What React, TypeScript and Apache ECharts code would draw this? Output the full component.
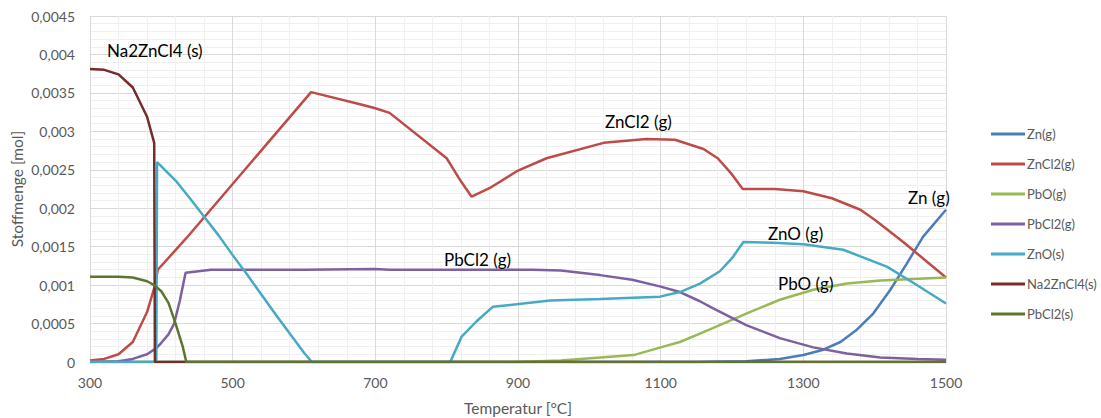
import React, { useEffect, useRef } from "react";
import * as echarts from "echarts";

const FONT = "Lato, 'Open Sans', sans-serif";

const seriesNames = ["Zn(g)", "ZnCl2(g)", "PbO(g)", "PbCl2(g)", "ZnO(s)", "Na2ZnCl4(s)", "PbCl2(s)"];
const seriesColors = ["#4A7EBB", "#BE4B48", "#98B954", "#7D60A0", "#46AAC5", "#772C2A", "#5E7530"];

const znGT = [300, 1150, 1220, 1267, 1300, 1328, 1352, 1375, 1398, 1422, 1445, 1468, 1500];
const znGV = [0, 0, 0.00001, 0.00004, 0.00009, 0.00016, 0.00026, 0.00042, 0.00063, 0.00094, 0.00128, 0.00163, 0.00198];

const znCl2GT = [300, 320, 340, 360, 380, 390, 395, 435, 610, 680, 700, 720, 800, 820, 835, 860, 900, 940, 1020, 1080, 1120, 1160, 1180, 1200, 1215, 1260, 1300, 1340, 1380, 1400, 1440, 1500];
const znCl2GV = [0.00002, 0.00004, 0.0001, 0.00026, 0.00065, 0.00096, 0.0012, 0.00161, 0.00351, 0.00335, 0.0033, 0.00324, 0.00265, 0.00235, 0.00215, 0.00226, 0.00249, 0.00265, 0.00285, 0.0029, 0.00289, 0.00277, 0.00265, 0.00244, 0.00225, 0.00225, 0.00222, 0.00213, 0.00198, 0.00185, 0.00156, 0.0011];

const pbOGT = [300, 900, 960, 1015, 1062, 1100, 1127, 1155, 1173, 1220, 1267, 1314, 1361, 1408, 1454, 1500];
const pbOGV = [0, 0, 0.00002, 0.00006, 0.00009, 0.00019, 0.00026, 0.00037, 0.00044, 0.00063, 0.00081, 0.00094, 0.00102, 0.00106, 0.00108, 0.0011];

const pbCl2GT = [300, 340, 360, 380, 393, 400, 410, 418, 426, 434, 470, 500, 600, 700, 720, 920, 960, 1015, 1060, 1100, 1127, 1155, 1173, 1220, 1267, 1314, 1361, 1408, 1460, 1500];
const pbCl2GV = [0, 0.00001, 0.00004, 0.0001, 0.00018, 0.00025, 0.00036, 0.0005, 0.0008, 0.00116, 0.0012, 0.0012, 0.0012, 0.00121, 0.0012, 0.0012, 0.00119, 0.00113, 0.00107, 0.00098, 0.00091, 0.00079, 0.0007, 0.00048, 0.00031, 0.00019, 0.00011, 0.00006, 0.00004, 0.00003];

const znOST = [300, 393, 394, 420, 440, 460, 480, 500, 520, 540, 560, 580, 600, 611, 805, 821, 842, 865, 898, 945, 1015, 1099, 1127, 1155, 1183, 1200, 1216, 1258, 1300, 1356, 1417, 1454, 1500];
const znOSV = [0, 0, 0.0026, 0.00236, 0.00213, 0.00189, 0.00165, 0.00139, 0.00114, 0.00088, 0.00062, 0.00037, 0.00012, 0, 0, 0.00033, 0.00053, 0.00072, 0.00075, 0.0008, 0.00082, 0.00085, 0.00091, 0.00102, 0.00118, 0.00135, 0.00156, 0.00155, 0.00153, 0.00146, 0.00124, 0.00103, 0.00076];

const na2ZnCl4T = [300, 320, 340, 360, 380, 390, 391, 1500];
const na2ZnCl4V = [0.00381, 0.0038, 0.00374, 0.00357, 0.00319, 0.00285, 0, 0];

const pbCl2ST = [300, 340, 360, 380, 390, 400, 410, 420, 430, 435, 1500];
const pbCl2SV = [0.00111, 0.00111, 0.0011, 0.00105, 0.001, 0.00092, 0.00077, 0.0005, 0.0002, 0, 0];

const temps = [znGT, znCl2GT, pbOGT, pbCl2GT, znOST, na2ZnCl4T, pbCl2ST];
const vals = [znGV, znCl2GV, pbOGV, pbCl2GV, znOSV, na2ZnCl4V, pbCl2SV];

const annotations = [
  { text: "Na2ZnCl4 (s)", x: 107, y: 50 },
  { text: "ZnCl2 (g)", x: 605, y: 121 },
  { text: "PbCl2 (g)", x: 444, y: 259 },
  { text: "ZnO (g)", x: 768, y: 233 },
  { text: "PbO (g)", x: 778, y: 283 },
  { text: "Zn (g)", x: 908, y: 197 },
];

const xTitle = "Temperatur [°C]";
const yTitle = "Stoffmenge [mol]";

export default function App() {
  const ref = useRef<HTMLDivElement>(null);
  useEffect(() => {
    const chart = echarts.init(ref.current!, null, { renderer: "svg" });
    const series = seriesNames.map((name, i) => ({
      name,
      type: "line",
      data: temps[i].map((t, j) => [t, vals[i][j]]),
      showSymbol: false,
      symbol: "none",
      lineStyle: { width: 2.5, color: seriesColors[i] },
      itemStyle: { color: seriesColors[i] },
      z: 2 + i,
    }));
    chart.setOption({
      animation: false,
      backgroundColor: "#ffffff",
      textStyle: { fontFamily: FONT },
      grid: { left: 90, right: 155, top: 16, bottom: 56, containLabel: false },
      xAxis: {
        type: "value",
        min: 300,
        max: 1500,
        interval: 200,
        axisLine: { show: true, lineStyle: { color: "#D9D9D9" } },
        axisTick: { show: false },
        axisLabel: { color: "#595959", fontSize: 14, fontFamily: FONT, margin: 13, formatter: (v: number) => String(v) },
        splitLine: { show: true, lineStyle: { color: "#D9D9D9", width: 1 } },
        minorTick: { show: false, splitNumber: 5 },
        minorSplitLine: { show: true, lineStyle: { color: "#F0F0F0", width: 1 } },
      },
      yAxis: {
        type: "value",
        min: 0,
        max: 0.0045,
        interval: 0.0005,
        axisLine: { show: true, lineStyle: { color: "#D9D9D9" } },
        axisTick: { show: false },
        axisLabel: {
          color: "#595959",
          fontSize: 14,
          fontFamily: FONT,
          margin: 15,
          formatter: (v: number) => (v === 0 ? "0" : String(parseFloat(v.toFixed(4))).replace(".", ",")),
        },
        splitLine: { show: true, lineStyle: { color: "#D9D9D9", width: 1 } },
        minorTick: { show: false, splitNumber: 5 },
        minorSplitLine: { show: true, lineStyle: { color: "#F0F0F0", width: 1 } },
      },
      legend: {
        orient: "vertical",
        left: 986,
        top: 121,
        icon: "rect",
        itemWidth: 34,
        itemHeight: 3,
        itemGap: 14,
        textStyle: { color: "#595959", fontSize: 13, fontFamily: FONT, lineHeight: 16, padding: [0, 0, 0, -3] },
        data: seriesNames,
      },
      graphic: [
        ...annotations.map((a) => ({
          type: "text",
          x: a.x,
          y: a.y,
          style: { text: a.text, fontSize: 17, fontFamily: FONT, fill: "#000000", textVerticalAlign: "middle" },
          z: 100,
        })),
        {
          type: "text",
          x: 518,
          y: 408,
          style: { text: xTitle, fontSize: 15.5, fontFamily: FONT, fill: "#595959", textAlign: "center", textVerticalAlign: "middle" },
        },
        {
          type: "text",
          x: 17,
          y: 189,
          rotation: Math.PI / 2,
          style: { text: yTitle, fontSize: 15.5, fontFamily: FONT, fill: "#595959", textAlign: "center", textVerticalAlign: "middle" },
        },
      ],
      series,
    });
    return () => chart.dispose();
  }, []);
  return <div ref={ref} style={{ position: "fixed", left: 0, top: 0, width: 1101, height: 418 }} />;
}
